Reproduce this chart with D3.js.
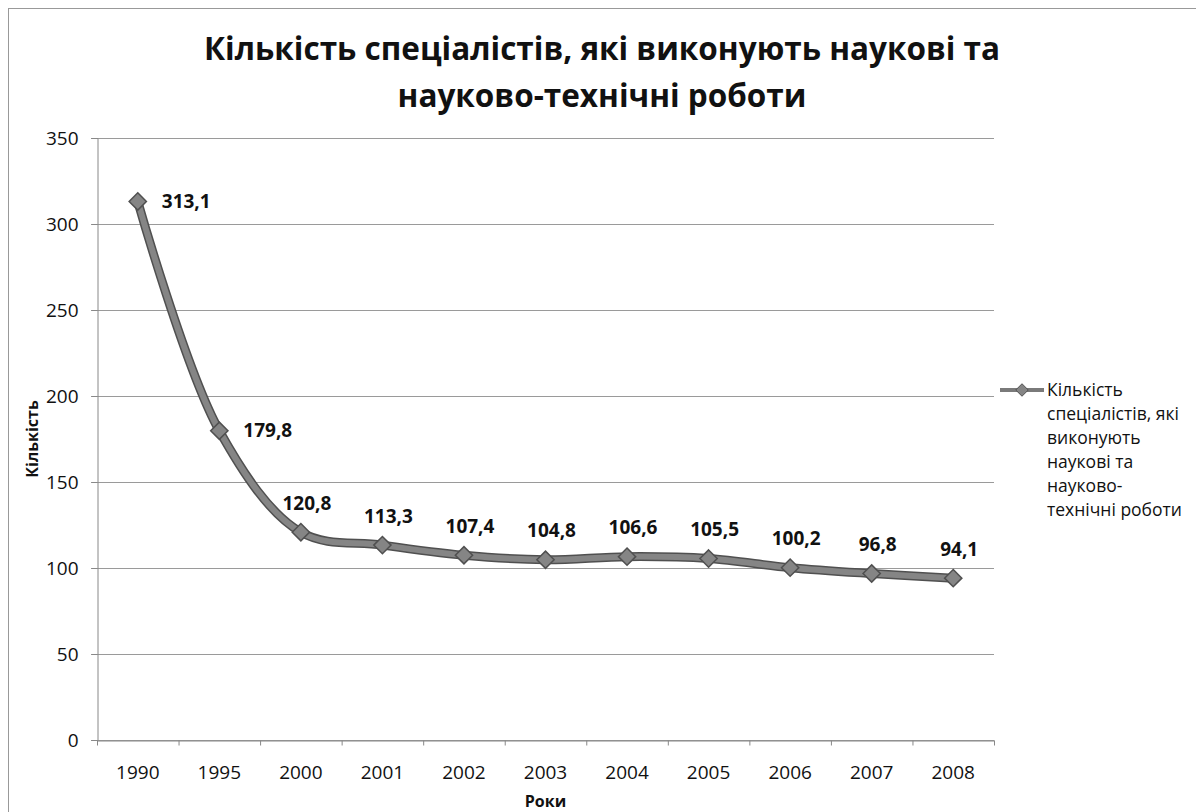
<!DOCTYPE html>
<html>
<head>
<meta charset="utf-8">
<script src="https://cdn.jsdelivr.net/npm/d3@7"></script>
<style>
  body { margin: 0; background: #fff; }
  svg { display: block; font-family: "Open Sans", "Noto Sans", sans-serif; }
</style>
</head>
<body>
<svg width="1196" height="812"></svg>
<script>
const years = ["1990", "1995", "2000", "2001", "2002", "2003", "2004", "2005", "2006", "2007", "2008"];
const values = [313.1, 179.8, 120.8, 113.3, 107.4, 104.8, 106.6, 105.5, 100.2, 96.8, 94.1];
const yTicks = [0, 50, 100, 150, 200, 250, 300, 350];
const titleLines = ["Кількість спеціалістів, які виконують наукові та", "науково-технічні роботи"];
const legendLines = ["Кількість", "спеціалістів, які", "виконують", "наукові та", "науково-", "технічні роботи"];

const plot = { left: 97, right: 994, top: 138, bottom: 740 };

const svg = d3.select("svg");

// chart frame
svg.append("rect")
  .attr("x", 8.5).attr("y", 8.5)
  .attr("width", 1210).attr("height", 830)
  .attr("fill", "none")
  .attr("stroke", "#999")
  .attr("stroke-width", 1);

const x = d3.scaleBand().domain(years).range([plot.left, plot.right]);
const y = d3.scaleLinear().domain([0, 350]).range([plot.bottom, plot.top]);

// gridlines
svg.append("g")
  .selectAll("line")
  .data(yTicks)
  .join("line")
  .attr("x1", plot.left - 6).attr("x2", plot.right)
  .attr("y1", d => y(d) + 0.5).attr("y2", d => y(d) + 0.5)
  .attr("stroke", "#9a9a9a")
  .attr("stroke-width", 1);

// y axis
const yAxis = svg.append("g")
  .attr("transform", `translate(${plot.left + 0.5},0)`)
  .call(d3.axisLeft(y).tickValues(yTicks).tickSize(6).tickPadding(13).tickFormat(d3.format("d")));
yAxis.select(".domain").attr("stroke", "#888");
yAxis.selectAll(".tick line").attr("stroke", "#888");
yAxis.selectAll("text").attr("font-size", 19).attr("fill", "#111")
  .attr("font-family", "'Open Sans', sans-serif");

// x axis
const xAxis = svg.append("g")
  .attr("transform", `translate(0,${plot.bottom + 0.5})`)
  .call(d3.axisBottom(x).tickSize(0).tickPadding(25));
xAxis.select(".domain").attr("stroke", "#888");
xAxis.selectAll("text").attr("font-size", 19).attr("fill", "#111")
  .attr("font-family", "'Open Sans', sans-serif");
xAxis.selectAll(".bound")
  .data(d3.range(years.length + 1))
  .join("line")
  .attr("class", "bound")
  .attr("x1", i => plot.left + i * x.step() + 0.5)
  .attr("x2", i => plot.left + i * x.step() + 0.5)
  .attr("y1", 0).attr("y2", 5)
  .attr("stroke", "#888");

// series line
const cx = (d, i) => x(years[i]) + x.bandwidth() / 2;
const line = d3.line()
  .x(cx)
  .y(d => y(d))
  .curve(d3.curveCatmullRom.alpha(0.5));

svg.append("path")
  .datum(values)
  .attr("d", line)
  .attr("fill", "none")
  .attr("stroke", "#505050")
  .attr("stroke-width", 9)
  .attr("stroke-linejoin", "round");
svg.append("path")
  .datum(values)
  .attr("d", line)
  .attr("fill", "none")
  .attr("stroke", "#858585")
  .attr("stroke-width", 6)
  .attr("stroke-linejoin", "round");

// markers
const diamond = d3.symbol().type(d3.symbolDiamond2).size(190);
svg.append("g")
  .selectAll("path")
  .data(values)
  .join("path")
  .attr("transform", (d, i) => `translate(${cx(d, i)},${y(d)})`)
  .attr("d", diamond)
  .attr("fill", "#858585")
  .attr("stroke", "#505050")
  .attr("stroke-width", 1.5);

// data labels
const fmt = d => d.toFixed(1).replace(".", ",");
svg.append("g")
  .selectAll("text")
  .data(values)
  .join("text")
  .attr("x", (d, i) => i < 2 ? cx(d, i) + 24 : cx(d, i) + 6)
  .attr("y", (d, i) => i < 2 ? y(d) : y(d) - 29)
  .attr("dy", "0.35em")
  .attr("text-anchor", (d, i) => i < 2 ? "start" : "middle")
  .attr("font-size", 19)
  .attr("font-weight", "bold")
  .attr("fill", "#111")
  .text(fmt);

// title
svg.append("text")
  .attr("x", 602)
  .attr("text-anchor", "middle")
  .attr("font-size", 31.5)
  .attr("font-weight", "bold")
  .attr("fill", "#111")
  .selectAll("tspan")
  .data(titleLines)
  .join("tspan")
  .attr("x", 602)
  .attr("y", (d, i) => 60 + i * 47)
  .text(d => d);

// axis titles
svg.append("text")
  .attr("transform", `translate(38,${(plot.top + plot.bottom) / 2}) rotate(-90)`)
  .attr("text-anchor", "middle")
  .attr("font-size", 16)
  .attr("font-weight", "bold")
  .attr("fill", "#111")
  .text("Кількість");

svg.append("text")
  .attr("x", (plot.left + plot.right) / 2)
  .attr("y", 807)
  .attr("text-anchor", "middle")
  .attr("font-size", 16)
  .attr("font-weight", "bold")
  .attr("fill", "#111")
  .text("Роки");

// legend
const legend = svg.append("g").attr("transform", "translate(1000,390)");
legend.append("line")
  .attr("x1", 0).attr("x2", 44).attr("y1", 0).attr("y2", 0)
  .attr("stroke", "#7a7a7a").attr("stroke-width", 4);
legend.append("path")
  .attr("transform", "translate(22,0)")
  .attr("d", d3.symbol().type(d3.symbolDiamond2).size(100))
  .attr("fill", "#858585").attr("stroke", "#505050");
legend.append("text")
  .attr("font-size", 17.5)
  .attr("fill", "#111")
  .selectAll("tspan")
  .data(legendLines)
  .join("tspan")
  .attr("x", 47)
  .attr("y", (d, i) => i * 24)
  .attr("dy", "0.35em")
  .text(d => d);
</script>
</body>
</html>
